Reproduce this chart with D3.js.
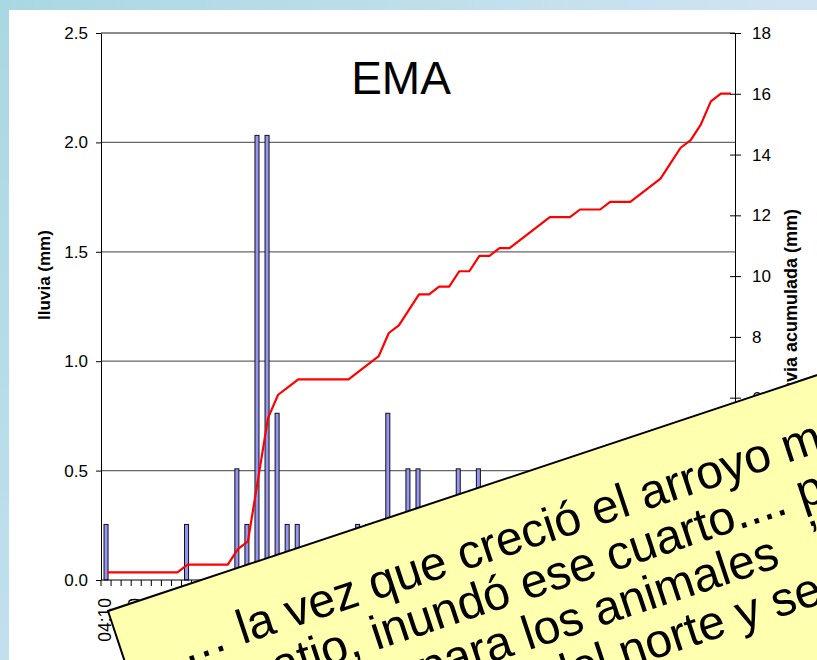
<!DOCTYPE html>
<html>
<head>
<meta charset="utf-8">
<script src="https://cdn.jsdelivr.net/npm/d3@7"></script>
<style>
  body { margin: 0; background: #fff; }
  svg { display: block; font-family: "Liberation Sans", Arial, sans-serif; }
</style>
</head>
<body>
<div id="chart"></div>
<script>
// horas cada 10 minutos
const horas = [
  "04:10", "04:20", "04:30", "04:40", "04:50",
  "05:00", "05:10", "05:20", "05:30", "05:40", "05:50",
  "06:00", "06:10", "06:20", "06:30", "06:40", "06:50",
  "07:00", "07:10", "07:20", "07:30", "07:40", "07:50",
  "08:00", "08:10", "08:20", "08:30", "08:40", "08:50",
  "09:00", "09:10", "09:20", "09:30", "09:40", "09:50",
  "10:00", "10:10", "10:20", "10:30", "10:40", "10:50",
  "11:00", "11:10", "11:20", "11:30", "11:40", "11:50",
  "12:00", "12:10", "12:20", "12:30", "12:40", "12:50",
  "13:00", "13:10", "13:20", "13:30", "13:40", "13:50",
  "14:00", "14:10", "14:20", "14:30"
];

// lluvia (mm) en cada intervalo
const lluvia = [
  0.254, 0, 0, 0, 0, 0, 0, 0, 0.254, 0,
  0, 0, 0, 0.508, 0.254, 2.032, 2.032, 0.762, 0.254, 0.254,
  0, 0, 0, 0, 0, 0.254, 0.254, 0.254, 0.762, 0.254,
  0.508, 0.508, 0, 0.254, 0, 0.508, 0, 0.508, 0, 0.254,
  0, 0.254, 0.254, 0.254, 0.254, 0, 0, 0.254, 0, 0,
  0.254, 0, 0, 0.254, 0.254, 0.254, 0.508, 0.508, 0.254, 0.508,
  0.762, 0.254, 0
];

const ticksIzq = [0, 0.5, 1.0, 1.5, 2.0, 2.5];
const ticksDer = [0, 2, 4, 6, 8, 10, 12, 14, 16, 18];

const titulo = "EMA";
const tituloIzq = "lluvia (mm)";
const tituloDer = "lluvia acumulada (mm)";

// texto de la nota (cada linea puede tener un resto separado)
const nota = [
  ["… la vez que creció el arroyo más grande,", ""],
  ["el patio, inundó ese cuarto.... para", ""],
  ["para los animales", "’"],
  ["venía del norte y se llevó todo", ""]
];

const acumulada = Array.from(d3.cumsum(lluvia));

const width = 817;
const height = 660;
const margin = { top: 33, right: 82, bottom: 80, left: 101 };

const svg = d3.select("#chart")
  .append("svg")
  .attr("width", width)
  .attr("height", height);

// fondo con marco celeste
const defs = svg.append("defs");
const gTop = defs.append("linearGradient").attr("id", "bandaTop");
gTop.append("stop").attr("offset", "0%").attr("stop-color", "#a9d8e2");
gTop.append("stop").attr("offset", "100%").attr("stop-color", "#d2e4f4");
const gLeft = defs.append("linearGradient").attr("id", "bandaIzq")
  .attr("x1", 0).attr("y1", 0).attr("x2", 0).attr("y2", 1);
gLeft.append("stop").attr("offset", "0%").attr("stop-color", "#a9d8e2");
gLeft.append("stop").attr("offset", "100%").attr("stop-color", "#c2dfee");

svg.append("rect").attr("width", width).attr("height", height).attr("fill", "#fff");
svg.append("rect").attr("width", width).attr("height", 10).attr("fill", "url(#bandaTop)");
svg.append("rect").attr("width", 9).attr("height", height).attr("fill", "url(#bandaIzq)");

const x = d3.scaleBand()
  .domain(horas)
  .range([margin.left, width - margin.right]);

const yIzq = d3.scaleLinear()
  .domain([0, 2.5])
  .range([height - margin.bottom, margin.top]);

const yDer = d3.scaleLinear()
  .domain([0, 18])
  .range([height - margin.bottom, margin.top]);

const bw = x.bandwidth();
const barW = bw * 0.4;

// lineas de grilla
svg.append("g")
  .selectAll("line")
  .data(ticksIzq.filter(d => d > 0))
  .join("line")
  .attr("x1", margin.left)
  .attr("x2", width - margin.right)
  .attr("y1", d => yIzq(d))
  .attr("y2", d => yIzq(d))
  .attr("stroke", "#666")
  .attr("stroke-width", 1.3);

// barras
svg.append("g")
  .selectAll("rect")
  .data(lluvia.map((v, i) => ({ hora: horas[i], v })).filter(d => d.v > 0))
  .join("rect")
  .attr("x", d => x(d.hora) + (bw - barW) / 2)
  .attr("y", d => yIzq(d.v))
  .attr("width", barW)
  .attr("height", d => yIzq(0) - yIzq(d.v))
  .attr("fill", "#9595f5")
  .attr("stroke", "#111")
  .attr("stroke-width", 1);

// linea acumulada
const linea = d3.line()
  .x((d, i) => x(horas[i]) + bw / 2 + 1)
  .y(d => yDer(d));

svg.append("path")
  .datum(acumulada)
  .attr("d", linea)
  .attr("fill", "none")
  .attr("stroke", "#ff0000")
  .attr("stroke-width", 2.2)
  .attr("stroke-linejoin", "round");

// eje izquierdo
const ejeIzq = svg.append("g")
  .attr("transform", `translate(${margin.left},0)`)
  .call(d3.axisLeft(yIzq).tickValues(ticksIzq).tickFormat(d3.format(".1f"))
    .tickSize(5).tickSizeOuter(0).tickPadding(8));
ejeIzq.selectAll("text").attr("font-size", "17px").attr("font-family", "Liberation Sans, Arial").attr("fill", "#000");

// eje derecho, marcas que cruzan
const ejeDer = svg.append("g")
  .attr("transform", `translate(${width - margin.right},0)`)
  .call(d3.axisRight(yDer).tickValues(ticksDer)
    .tickSize(6).tickSizeOuter(0).tickPadding(11));
ejeDer.selectAll(".tick line").attr("x1", -5);
ejeDer.selectAll("text").attr("font-size", "17px").attr("font-family", "Liberation Sans, Arial").attr("fill", "#000");

// eje x
const ejeX = svg.append("g");
ejeX.append("line")
  .attr("x1", margin.left).attr("x2", width - margin.right)
  .attr("y1", yIzq(0)).attr("y2", yIzq(0))
  .attr("stroke", "#000");
ejeX.selectAll(".marca")
  .data(horas.concat([null]))
  .join("line")
  .attr("class", "marca")
  .attr("x1", d => d ? x(d) : x.range()[1])
  .attr("x2", d => d ? x(d) : x.range()[1])
  .attr("y1", yIzq(0))
  .attr("y2", yIzq(0) + 6)
  .attr("stroke", "#000");
ejeX.selectAll("text")
  .data(horas.filter((d, i) => i % 3 === 0))
  .join("text")
  .attr("transform", d => `translate(${x(d) + bw / 2 + 5},${yIzq(0) + 18}) rotate(-90)`)
  .attr("text-anchor", "end")
  .attr("font-size", "17.5px")
  .text(d => d);

// titulos
svg.append("text")
  .attr("x", 401).attr("y", 94)
  .attr("text-anchor", "middle")
  .attr("font-size", "46px")
  .text(titulo);

svg.append("text")
  .attr("transform", "translate(50,275) rotate(-90)")
  .attr("text-anchor", "middle")
  .attr("font-size", "17px")
  .attr("font-weight", "bold")
  .text(tituloIzq);

svg.append("text")
  .attr("transform", "translate(797,306) rotate(-90)")
  .attr("text-anchor", "middle")
  .attr("font-size", "18px")
  .attr("font-weight", "bold")
  .text(tituloDer);

// nota amarilla encima
const notaX = [56, 61, 277, 264];
const notaG = svg.append("g")
  .attr("transform", "translate(108,611) rotate(-18.4)");
notaG.append("rect")
  .attr("width", 1100).attr("height", 500)
  .attr("fill", "#ffffb0")
  .attr("stroke", "#000")
  .attr("stroke-width", 2);
const lineas = notaG.selectAll("text")
  .data(nota)
  .join("text")
  .attr("x", (d, i) => notaX[i])
  .attr("y", (d, i) => 74 + i * 48)
  .attr("font-size", "48px");
lineas.append("tspan").text(d => d[0]);
lineas.append("tspan").attr("dx", 38).text(d => d[1]);
</script>
</body>
</html>
